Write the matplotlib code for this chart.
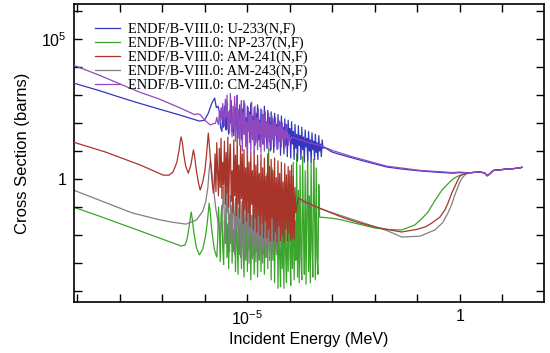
import numpy as np
import matplotlib
matplotlib.use("Agg")
import matplotlib.pyplot as plt
from matplotlib.ticker import FixedLocator, FuncFormatter, NullLocator

# ---------------- data (log10 E [MeV], log10 sigma [barns]) ----------------
LABELS = ["ENDF/B-VIII.0: U-233(N,F)", "ENDF/B-VIII.0: NP-237(N,F)",
          "ENDF/B-VIII.0: AM-241(N,F)", "ENDF/B-VIII.0: AM-243(N,F)",
          "ENDF/B-VIII.0: CM-245(N,F)"]
COLORS = ["#3535c0", "#3aa52a", "#a8342a", "#808080", "#9048c0"]

# shared energy grid (log10 MeV) of the resolved-resonance region
RES_GRID = [-5.80, -5.78, -5.76, -5.74, -5.72, -5.70, -5.68, -5.66, -5.64, -5.62,
            -5.60, -5.58, -5.56, -5.54, -5.52, -5.50, -5.48, -5.46, -5.44, -5.42,
            -5.40, -5.38, -5.36, -5.34, -5.32, -5.30, -5.28, -5.26, -5.24, -5.22,
            -5.20, -5.18, -5.16, -5.14, -5.12, -5.10, -5.08, -5.06, -5.04, -5.02,
            -5.00, -4.98, -4.96, -4.94, -4.92, -4.90, -4.88, -4.86, -4.84, -4.82,
            -4.80, -4.78, -4.76, -4.74, -4.72, -4.70, -4.68, -4.66, -4.64, -4.62,
            -4.60, -4.58, -4.56, -4.54, -4.52, -4.50, -4.48, -4.46, -4.44, -4.42,
            -4.40, -4.38, -4.36, -4.34, -4.32, -4.30, -4.28, -4.26, -4.24, -4.22,
            -4.20, -4.18, -4.16, -4.14, -4.12, -4.10, -4.08, -4.06, -4.04, -4.02,
            -4.00, -3.98, -3.96, -3.94, -3.92, -3.90, -3.88, -3.86, -3.84, -3.82,
            -3.80, -3.78, -3.76, -3.74, -3.72, -3.70, -3.68, -3.66, -3.64, -3.62,
            -3.60, -3.58, -3.56, -3.54, -3.52, -3.50, -3.48, -3.46, -3.44, -3.42,
            -3.40, -3.38, -3.36, -3.34, -3.32, -3.30, -3.28, -3.26, -3.24, -3.22]

# common high-energy part
TAIL_LOGE = [0.20, 0.35, 0.47, 0.58, 0.64, 0.70, 0.78, 0.85, 0.95, 1.10, 1.25, 1.42, 1.46]
TAIL_LOGXS = [0.22, 0.24, 0.25, 0.22, 0.12, 0.18, 0.30, 0.32, 0.33, 0.36, 0.37, 0.40, 0.42]

# U-233
u233_left_e = [-9.10, -8.49, -8.02, -7.55, -7.08, -6.60, -6.13, -6.01, -5.92, -5.84,
               -5.77, -5.73, -5.69, -5.66, -5.63]
u233_left_xs = [3.43, 3.16, 2.93, 2.71, 2.50, 2.29, 2.07, 2.10, 2.35, 2.70,
                2.89, 2.55, 2.60, 2.40, 1.85]
u233_res_start = 10
u233_res_xs = [1.70, 2.30, 1.85, 2.60, 2.10, 1.75, 2.75, 2.00, 1.60, 2.45,
               2.00, 2.80, 1.70, 2.20, 1.55, 2.55, 1.90, 2.70, 1.50, 2.30,
               1.80, 2.65, 2.05, 1.40, 2.50, 1.75, 2.80, 1.60, 2.20, 1.35,
               2.60, 1.90, 2.40, 1.30, 2.70, 1.70, 2.25, 1.45, 2.55, 1.20,
               2.35, 1.80, 2.65, 1.40, 2.10, 1.15, 2.50, 1.65, 2.30, 1.25,
               2.60, 1.50, 2.05, 1.10, 2.45, 1.70, 2.20, 1.00, 2.40, 1.45,
               2.15, 0.95, 2.35, 1.60, 1.95, 1.05, 2.30, 1.35, 2.05, 0.85,
               2.25, 1.50, 1.85, 0.90, 2.15, 1.20, 1.95, 0.80, 2.10, 1.40,
               1.80, 0.75, 2.05, 1.25, 1.70, 0.70, 1.95, 1.10, 1.60, 0.65,
               1.90, 1.20, 1.55, 0.70, 1.85, 1.05, 1.50, 0.60, 1.75, 1.15,
               1.45, 0.65, 1.70, 1.00, 1.40, 0.60, 1.65, 1.05, 1.35, 0.70,
               1.60, 0.95, 1.30, 0.70, 1.55, 1.00, 1.25, 0.80, 1.40, 1.10]
u233_right_e = [-3.18, -3.00, -2.78, -2.52, -2.20, -1.72, -1.37, -0.94, -0.50, -0.17, 0.0]
u233_right_xs = [1.12, 0.96, 0.86, 0.75, 0.62, 0.43, 0.36, 0.29, 0.24, 0.21, 0.23]

# NP-237
np237_left_e = [-9.10, -8.49, -7.71, -7.08, -6.56, -6.47, -6.42, -6.37, -6.34, -6.32,
                -6.30, -6.26, -6.20, -6.13, -6.05, -5.98, -5.94, -5.91, -5.90, -5.88,
                -5.84, -5.78, -5.72]
np237_left_xs = [-1.00, -1.32, -1.75, -2.10, -2.39, -2.36, -2.15, -1.70, -1.35, -1.18,
                 -1.40, -1.90, -2.45, -2.71, -2.50, -2.00, -1.50, -1.00, -0.86, -1.10,
                 -1.80, -2.50, -2.79]
np237_res_start = 5
np237_res_xs = [-2.20, -1.00, -1.70, -2.95, -1.30,
                -0.95, -2.40, -3.05, -1.50, -2.10, -1.10, -2.80, -1.60, -3.20, -1.25,
                -2.30, -0.95, -3.00, -1.80, -2.60, -1.20, -3.30, -1.50, -2.20, -3.40,
                -1.05, -2.70, -1.60, -3.20, -0.95, -2.40, -3.50, -1.40, -2.90, -1.10,
                -3.30, -1.70, -2.50, -0.85, -3.60, -1.90, -2.80, -1.20, -3.40, -1.50,
                -2.60, -0.90, -3.50, -1.30, -2.90, -0.60, -3.30, -1.80, -2.70, -0.40,
                -3.40, -1.00, -2.80, 0.20, -3.20, 1.10, -2.60, -0.30, -3.60, 0.40,
                -2.90, -0.80, -3.70, -1.40, -2.50, -0.30, -3.90, -1.20, -2.80, -3.85,
                -0.50, -3.20, -1.60, -3.90, -0.20, -2.70, -3.70, -1.00, -3.30, 0.10,
                -2.60, -3.80, -0.80, -3.20, 0.60, -3.60, -1.50, -2.90, 0.90, -3.50,
                -0.40, -3.70, 0.50, -2.80, -3.60, 0.80, -1.80, -3.40, 0.30, -3.75,
                -1.20, 0.90, -3.30, -0.60, -3.70, 0.60, -2.40, -3.50, 0.70, -1.00,
                -3.60, 0.40, -2.80, -3.40, -0.20]
np237_right_e = [-3.30, -3.00, -2.78, -2.40, -2.00, -1.70, -1.37, -1.06, -0.90, -0.75,
                 -0.60, -0.42, -0.30, -0.20, -0.12, -0.05, 0.05]
np237_right_xs = [-1.36, -1.40, -1.46, -1.60, -1.75, -1.80, -1.82, -1.64, -1.42, -1.18,
                  -0.80, -0.39, -0.20, -0.05, 0.04, 0.10, 0.16]

# AM-241
am241_left_e = [-9.10, -8.33, -7.52, -6.98, -6.84, -6.75, -6.66, -6.61, -6.58, -6.56,
                -6.53, -6.50, -6.45, -6.39, -6.33, -6.29, -6.27, -6.24, -6.20, -6.15,
                -6.11, -6.05, -6.00, -5.96, -5.93, -5.92, -5.90, -5.86, -5.83, -5.80]
am241_left_xs = [1.32, 0.96, 0.50, 0.14, 0.14, 0.25, 0.60, 1.00, 1.35, 1.50,
                 1.30, 0.90, 0.45, 0.21, 0.50, 0.85, 1.04, 0.80, 0.30, -0.15,
                 -0.39, -0.10, 0.30, 0.90, 1.45, 1.64, 1.30, 0.50, -0.10, -0.50]
am241_res_start = 1
am241_res_xs = [-0.20, 0.90, -0.45, 1.30, 0.20, -0.60, 1.10, -0.30, 1.45,
                -0.70, 0.60, -0.20, 1.35, -0.90, 0.95, -0.50, 1.50, -1.00, 0.70,
                1.25, -0.80, 0.30, -1.20, 1.40, -0.60, 0.85, -1.30, 1.50, -0.90,
                0.50, -1.40, 1.20, -0.70, 0.90, -1.60, 1.05, -1.10, 0.40, -1.50,
                1.15, -1.20, 0.60, -1.70, 0.95, -0.90, 0.30, -1.80, 1.00, -1.40,
                0.50, -1.90, 0.85, -1.30, 0.20, -2.00, 0.90, -1.60, 0.40, -2.10,
                0.75, -1.50, 0.10, -2.10, 0.90, -1.80, 0.45, -2.20, 0.70, -1.40,
                0.30, -2.20, 0.75, -1.90, 0.05, -2.25, 0.65, -1.70, 0.20, -2.20,
                0.60, -2.00, -0.10, -2.25, 0.55, -1.80, 0.15, -2.20, 0.45, -1.95,
                0.30, -2.20, 0.50, -2.10, 0.10, -2.15, -0.30, -1.20]
am241_right_e = [-3.80, -3.58, -3.20, -2.78, -2.40, -2.00, -1.60, -1.37, -0.99, -0.80,
                 -0.66, -0.47, -0.35, -0.28, -0.19, -0.10, -0.05, 0.0, 0.06]
am241_right_xs = [-0.68, -0.86, -1.10, -1.36, -1.55, -1.71, -1.83, -1.89, -1.79, -1.70,
                  -1.57, -1.36, -1.10, -0.86, -0.50, -0.20, -0.04, 0.10, 0.16]

# AM-243
am243_left_e = [-9.10, -8.49, -7.71, -7.08, -6.77, -6.44, -6.20, -6.05, -5.98, -5.93,
                -5.90, -5.87, -5.84, -5.80, -5.74, -5.68, -5.63]
am243_left_xs = [-0.39, -0.75, -1.21, -1.45, -1.54, -1.61, -1.46, -1.15, -0.80, -0.30,
                 0.30, 0.68, 0.30, -0.30, -1.10, -1.60, -1.89]
am243_res_start = 11
am243_res_xs = [-0.90, -0.25, -1.60, -2.30, -0.40, -1.20, -0.10, -2.00, -2.60,
                -0.60, -1.50, -2.20, -0.20, -1.10, -2.70, -0.70, -1.80, -0.35, -2.40,
                -1.20, -0.50, -2.80, -1.50, -0.80, -2.30, -0.40, -2.90, -1.40, -0.60,
                -2.50, -1.00, -3.00, -0.70, -2.00, -1.30, -2.85, -0.90, -2.40, -1.10,
                -2.95, -0.80, -2.20, -1.40, -2.70, -1.00, -2.50, -1.60, -3.00, -1.20,
                -2.40, -0.90, -2.80, -1.50, -2.30, -1.10, -2.90, -1.30, -2.50, -1.00,
                -2.60, -1.40, -2.20, -0.95, -2.70, -1.20, -2.30, -1.10, -2.50, -1.30,
                -2.10, -1.00, -1.90, -0.80]
am243_right_e = [-4.13, -3.80, -3.54, -3.20, -2.83, -2.40, -2.12, -1.70, -1.37, -0.94,
                 -0.59, -0.40, -0.28, -0.19, -0.12, -0.05, 0.0, 0.06, 0.12]
am243_right_xs = [-0.64, -0.78, -0.93, -1.10, -1.29, -1.50, -1.64, -1.85, -2.07, -2.04,
                  -1.82, -1.55, -1.21, -0.90, -0.57, -0.30, -0.11, 0.05, 0.15]

# CM-245
cm245_left_e = [-9.10, -8.49, -8.02, -7.55, -7.08, -6.60, -6.37, -6.24, -6.18, -6.11,
                -6.01, -5.87, -5.80]
cm245_left_xs = [4.07, 3.71, 3.41, 3.11, 2.86, 2.55, 2.39, 2.30, 2.33, 2.30,
                 2.11, 1.93, 1.98]
cm245_res_start = 2
cm245_res_xs = [1.98, 2.05, 2.20, 2.05, 1.95, 2.35, 2.15, 2.55,
                2.10, 2.70, 2.30, 1.90, 2.85, 2.20, 3.00, 1.80, 2.40, 1.65,
                3.05, 2.10, 1.50, 2.60, 1.80, 2.95, 1.35, 2.30, 3.00, 1.45,
                2.50, 1.20, 2.20, 2.80, 1.00, 2.40, 1.60, 2.70, 1.15, 2.05,
                0.85, 2.55, 1.70, 2.30, 0.95, 2.75, 1.40, 2.10, 0.90, 2.60,
                1.30, 2.20, 1.05, 2.50, 1.60, 2.00, 0.95, 2.45, 1.25, 2.30,
                1.00, 2.40, 1.50, 2.05, 1.10, 2.35, 1.30, 1.95, 1.05, 2.25,
                1.40, 2.00, 1.15, 2.20, 1.55, 1.85, 1.10, 2.10, 1.35, 1.90,
                1.15, 2.00, 1.40, 1.75, 1.10, 1.95, 1.45, 1.70, 1.20, 1.60,
                1.35]
cm245_right_e = [-3.96, -3.60, -3.25, -3.00, -2.52, -1.72, -0.94, -0.17, 0.0]
cm245_right_xs = [1.50, 1.32, 1.18, 1.02, 0.79, 0.46, 0.31, 0.23, 0.25]

X_TICK_LABELS = {-5: r"$\mathregular{10^{-5}}$", 0: "1"}
Y_TICK_LABELS = {5: r"$\mathregular{10^{5}}$", 0: "1"}
X_LABEL = "Incident Energy (MeV)"
Y_LABEL = "Cross Section (barns)"


def build(left_e, left_xs, res_start, res_xs, right_e, right_xs):
    res_e = RES_GRID[res_start:res_start + len(res_xs)]
    le = list(left_e) + list(res_e) + list(right_e) + TAIL_LOGE
    lx = list(left_xs) + list(res_xs[:len(res_e)]) + list(right_xs) + TAIL_LOGXS
    return 10.0 ** np.array(le), 10.0 ** np.array(lx)


series = [
    build(u233_left_e, u233_left_xs, u233_res_start, u233_res_xs, u233_right_e, u233_right_xs),
    build(np237_left_e, np237_left_xs, np237_res_start, np237_res_xs, np237_right_e, np237_right_xs),
    build(am241_left_e, am241_left_xs, am241_res_start, am241_res_xs, am241_right_e, am241_right_xs),
    build(am243_left_e, am243_left_xs, am243_res_start, am243_res_xs, am243_right_e, am243_right_xs),
    build(cm245_left_e, cm245_left_xs, cm245_res_start, cm245_res_xs, cm245_right_e, cm245_right_xs),
]
ZORDERS = [4, 1, 3, 2, 5]

# ---------------- figure ----------------
plt.rcParams["font.family"] = ["Liberation Sans", "DejaVu Sans"]
plt.rcParams["mathtext.fontset"] = "custom"
plt.rcParams["mathtext.rm"] = "Liberation Sans"

fig = plt.figure(figsize=(5.5, 3.53), dpi=100)
ax = fig.add_axes([74 / 550, 1 - 302 / 353, (544 - 74) / 550, (302 - 4) / 353])

handles = []
for (x, y), lab, col, z in zip(series, LABELS, COLORS, ZORDERS):
    h, = ax.plot(x, y, color=col, lw=0.9, label=lab, zorder=z)
    handles.append(h)

ax.set_xscale("log")
ax.set_yscale("log")
ax.set_xlim(10 ** -9.08, 10 ** 1.98)
ax.set_ylim(10 ** -4.39, 10 ** 6.25)

ax.xaxis.set_major_locator(FixedLocator([10.0 ** k for k in range(-9, 2)]))
ax.yaxis.set_major_locator(FixedLocator([10.0 ** k for k in range(-4, 7)]))
ax.xaxis.set_minor_locator(NullLocator())
ax.yaxis.set_minor_locator(NullLocator())
ax.xaxis.set_major_formatter(FuncFormatter(
    lambda v, p: X_TICK_LABELS.get(int(round(np.log10(v))), "")))
ax.yaxis.set_major_formatter(FuncFormatter(
    lambda v, p: Y_TICK_LABELS.get(int(round(np.log10(v))), "")))
ax.tick_params(which="major", direction="in", length=6, width=1.0,
               top=True, right=True, labelsize=11.5, pad=5)
for s in ax.spines.values():
    s.set_linewidth(1.2)

ax.set_xlabel(X_LABEL, fontsize=11.5, labelpad=3)
ax.set_ylabel(Y_LABEL, fontsize=12, labelpad=8)

leg = ax.legend(handles=handles, loc="upper left", frameon=False,
                prop={"family": "Liberation Serif", "size": 10.4},
                handlelength=1.73, handletextpad=0.55, labelspacing=0.04,
                borderpad=0.0, borderaxespad=0.0, bbox_to_anchor=(0.045, 0.938))

fig.savefig("out.png", dpi=100)
